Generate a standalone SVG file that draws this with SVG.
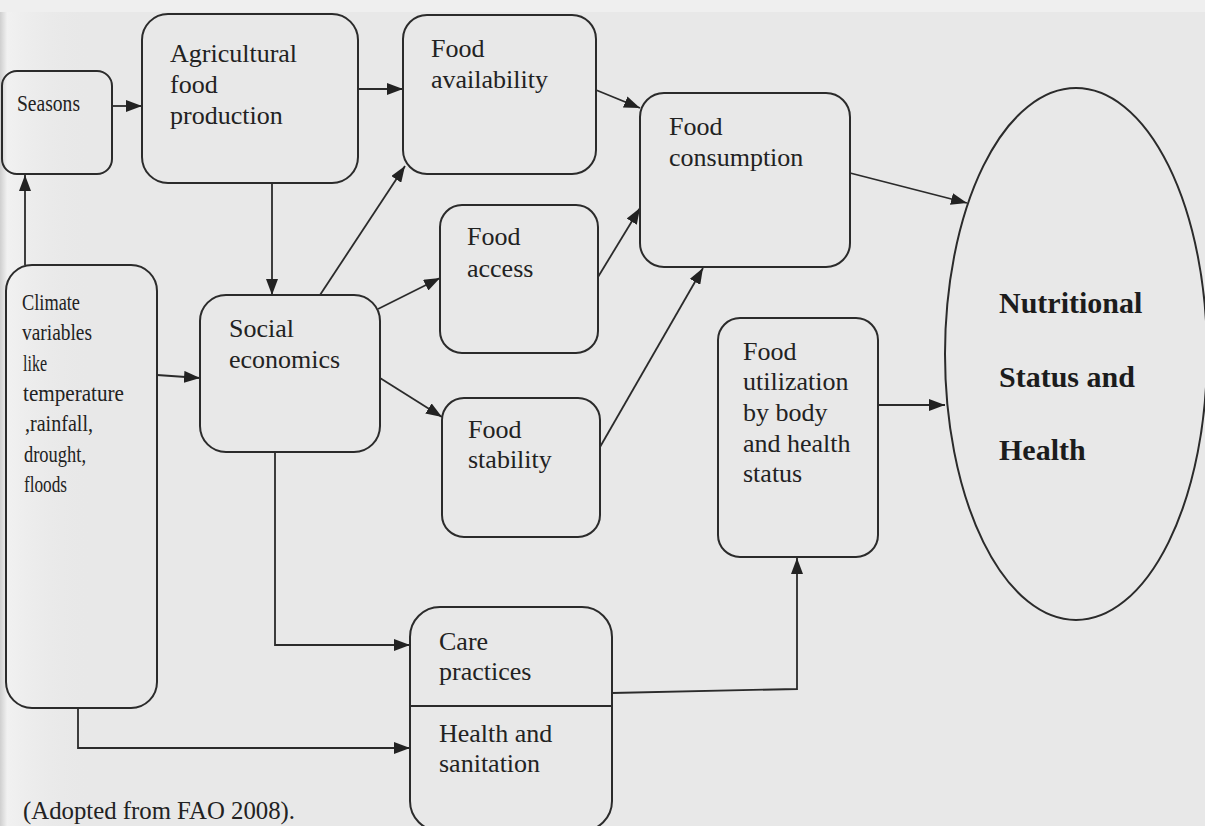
<svg xmlns="http://www.w3.org/2000/svg" width="1205" height="826" viewBox="0 0 1205 826">
<style>
.box{fill:none;stroke:#2b2b2b;stroke-width:2}
.t{font-family:"Liberation Serif","Times New Roman",serif;font-size:26px;fill:#222}
.c{font-family:"Liberation Serif","Times New Roman",serif;font-size:24px;fill:#222}
.b{font-family:"Liberation Serif","Times New Roman",serif;font-size:30px;font-weight:bold;fill:#1c1c1c}
.conn{fill:none;stroke:#2b2b2b;stroke-width:1.8}
</style>
<defs>
<marker id="ah" markerUnits="userSpaceOnUse" markerWidth="16" markerHeight="12" refX="16" refY="6" orient="auto">
<path d="M0,0 L16,6 L0,12 z" fill="#222"/>
</marker>
<linearGradient id="lg" x1="0" y1="0" x2="1" y2="0">
<stop offset="0" stop-color="#cfcfcf"/>
<stop offset="0.08" stop-color="#f1f1f1"/>
<stop offset="1" stop-color="#e8e8e8" stop-opacity="0"/>
</linearGradient>
</defs>
<rect x="0" y="0" width="1205" height="826" fill="#e8e8e8"/>
<rect x="0" y="12" width="90" height="814" fill="url(#lg)"/>
<rect x="0" y="0" width="1205" height="12" fill="#efefef"/>

<g id="connectors">
<line class="conn" x1="112" y1="106" x2="142" y2="106" marker-end="url(#ah)"/>
<line class="conn" x1="25" y1="265" x2="25" y2="175" marker-end="url(#ah)"/>
<line class="conn" x1="358" y1="89" x2="403" y2="89" marker-end="url(#ah)"/>
<line class="conn" x1="272" y1="183" x2="272" y2="295" marker-end="url(#ah)"/>
<line class="conn" x1="320" y1="295" x2="405" y2="166" marker-end="url(#ah)"/>
<line class="conn" x1="378" y1="309" x2="440" y2="278" marker-end="url(#ah)"/>
<line class="conn" x1="380" y1="378" x2="442" y2="417" marker-end="url(#ah)"/>
<polyline class="conn" points="275,452 275,645 410,645" marker-end="url(#ah)"/>
<line class="conn" x1="157" y1="375" x2="200" y2="378" marker-end="url(#ah)"/>
<line class="conn" x1="598" y1="277" x2="640" y2="208" marker-end="url(#ah)"/>
<line class="conn" x1="596" y1="90" x2="640" y2="108" marker-end="url(#ah)"/>
<line class="conn" x1="600" y1="447" x2="703" y2="268" marker-end="url(#ah)"/>
<line class="conn" x1="850" y1="173" x2="967" y2="203" marker-end="url(#ah)"/>
<line class="conn" x1="878" y1="405" x2="945" y2="405" marker-end="url(#ah)"/>
<polyline class="conn" points="612,693 797,689 797,558" marker-end="url(#ah)"/>
<polyline class="conn" points="78,708 78,748 410,748" marker-end="url(#ah)"/>
</g>

<g id="seasons">
<rect class="box" x="2" y="71" width="110" height="103" rx="15"/>
<text class="c" x="17" y="111" textLength="63" lengthAdjust="spacingAndGlyphs">Seasons</text>
</g>

<g id="agri">
<rect class="box" x="142" y="14" width="216" height="169" rx="26"/>
<text class="t" x="170" y="62">Agricultural</text>
<text class="t" x="170" y="93">food</text>
<text class="t" x="170" y="124">production</text>
</g>

<g id="climate">
<rect class="box" x="6" y="265" width="151" height="443" rx="26"/>
<text class="c" x="22" y="310" textLength="58" lengthAdjust="spacingAndGlyphs">Climate</text>
<text class="c" x="22" y="340" textLength="70" lengthAdjust="spacingAndGlyphs">variables</text>
<text class="c" x="23" y="371" textLength="24" lengthAdjust="spacingAndGlyphs">like</text>
<text class="c" x="23" y="401" textLength="101" lengthAdjust="spacingAndGlyphs">temperature</text>
<text class="c" x="25" y="431" textLength="68" lengthAdjust="spacingAndGlyphs">,rainfall,</text>
<text class="c" x="24" y="462" textLength="62" lengthAdjust="spacingAndGlyphs">drought,</text>
<text class="c" x="24" y="492" textLength="43" lengthAdjust="spacingAndGlyphs">floods</text>
</g>

<g id="social">
<rect class="box" x="200" y="295" width="180" height="157" rx="26"/>
<text class="t" x="229" y="337">Social</text>
<text class="t" x="229" y="368">economics</text>
</g>

<g id="availability">
<rect class="box" x="403" y="15" width="193" height="159" rx="24"/>
<text class="t" x="431" y="57">Food</text>
<text class="t" x="431" y="88">availability</text>
</g>

<g id="access">
<rect class="box" x="440" y="205" width="158" height="148" rx="22"/>
<text class="t" x="467" y="245">Food</text>
<text class="t" x="467" y="277">access</text>
</g>

<g id="stability">
<rect class="box" x="442" y="398" width="158" height="139" rx="22"/>
<text class="t" x="468" y="438">Food</text>
<text class="t" x="468" y="468">stability</text>
</g>

<g id="consumption">
<rect class="box" x="640" y="93" width="210" height="174" rx="24"/>
<text class="t" x="669" y="135">Food</text>
<text class="t" x="669" y="166">consumption</text>
</g>

<g id="utilization">
<rect class="box" x="718" y="318" width="160" height="239" rx="22"/>
<text class="t" x="743" y="360">Food</text>
<text class="t" x="743" y="390">utilization</text>
<text class="t" x="743" y="421">by body</text>
<text class="t" x="743" y="452">and health</text>
<text class="t" x="743" y="482">status</text>
</g>

<g id="care">
<rect class="box" x="410" y="607" width="202" height="224" rx="30"/>
<line class="box" x1="410" y1="706" x2="612" y2="706"/>
<text class="t" x="439" y="650">Care</text>
<text class="t" x="439" y="680">practices</text>
<text class="t" x="439" y="742">Health and</text>
<text class="t" x="439" y="772">sanitation</text>
</g>

<g id="nutrition">
<ellipse class="box" cx="1076" cy="354" rx="131" ry="266"/>
<text class="b" x="999" y="313">Nutritional</text>
<text class="b" x="999" y="387">Status and</text>
<text class="b" x="999" y="460">Health</text>
</g>

<g id="caption">
<text class="t" x="23" y="819" font-size="25" textLength="272" lengthAdjust="spacingAndGlyphs">(Adopted from FAO 2008).</text>
</g>
</svg>
